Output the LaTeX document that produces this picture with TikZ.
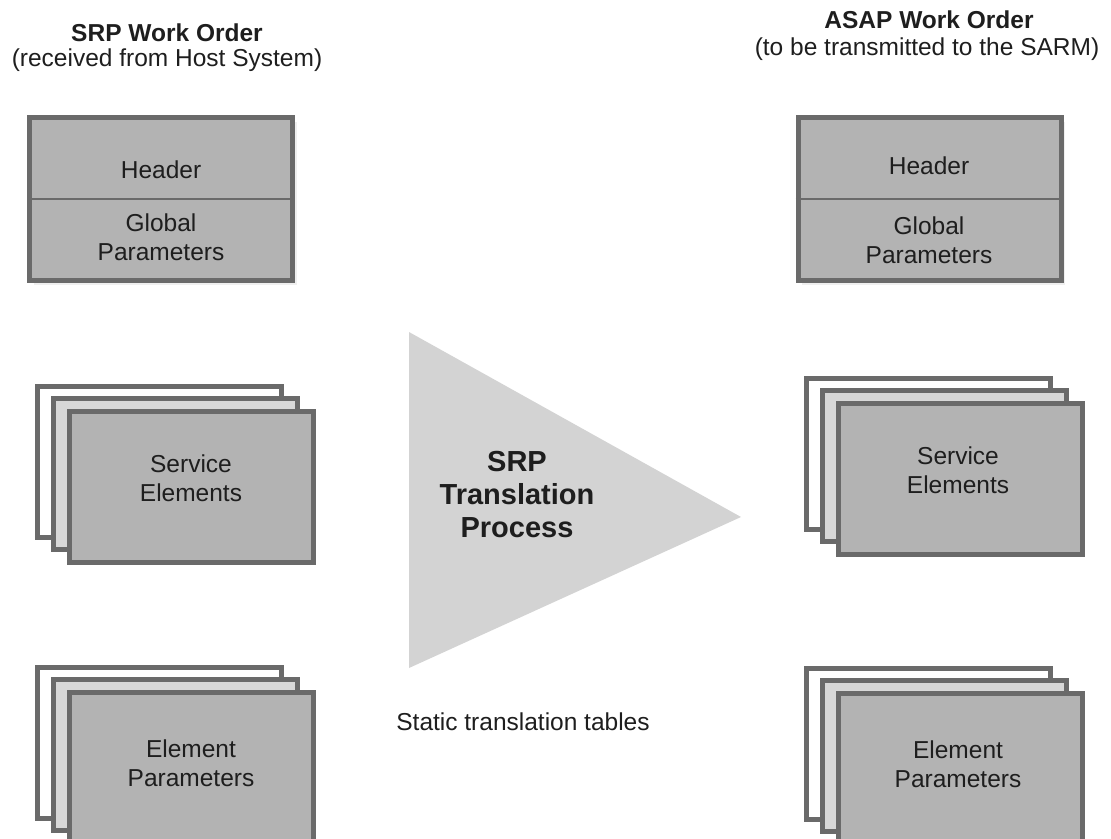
\documentclass[tikz,border=0pt]{standalone}
\usepackage{fontspec}
\setmainfont{Liberation Sans}
\usetikzlibrary{shadows}
\definecolor{boxgray}{HTML}{B3B3B3}
\definecolor{edgegray}{HTML}{6A6A6A}
\definecolor{trigray}{HTML}{D3D3D3}
\definecolor{midgray}{HTML}{D8D8D8}
\definecolor{ink}{HTML}{1E1E1E}
\tikzset{
  sheet/.style={draw=edgegray,line width=5pt,fill=boxgray,minimum width=244pt,minimum height=151pt,inner sep=0pt},
  midsheet/.style={sheet,fill=midgray},
  backsheet/.style={sheet,fill=white},
  topsheet/.style={sheet,minimum width=263pt,minimum height=163pt,
    drop shadow={shadow xshift=4pt,shadow yshift=-4pt,fill=black!12}},
  words/.style={text=ink,align=center,font=\fontsize{24.5}{28.5}\selectfont},
  boldwords/.style={words,font=\bfseries\fontsize{24.5}{28.5}\selectfont}
}
\begin{document}
\begin{tikzpicture}[x=1pt,y=-1pt]
\clip (0,0) rectangle (1111,838);
% titles
\node[boldwords] (srptitle) at (167,33) {SRP Work Order};
\node[words] (srpsub) at (167,60) {(received from Host System)};
\node[boldwords] (asaptitle) at (929,20) {ASAP Work Order};
\node[words] (asapsub) at (927,49) {(to be transmitted to the SARM)};
% header boxes
\node[topsheet] (srpbox) at (161,199) {};
\draw[edgegray,line width=2pt] (srpbox.west) -- (srpbox.east);
\node[words] (srphead) at (161,170) {Header};
\node[words] (srpglob) at (161,237) {Global\\Parameters};
\node[topsheet] (asapbox) at (929.5,199) {};
\draw[edgegray,line width=2pt] (asapbox.west) -- (asapbox.east);
\node[words] (asaphead) at (929,166) {Header};
\node[words] (asapglob) at (929,240) {Global\\Parameters};
% stacked sheets
\foreach \nm/\x/\y in {srpsvc/159/462,srpelem/159/742.5,asapsvc/928.5/453.5,asapelem/928.5/743.5}{
  \node[backsheet] (\nm back) at (\x,\y) {};
  \node[midsheet] (\nm mid) at (\x+16,\y+12) {};
  \node[sheet] (\nm front) at (\x+32,\y+25) {};
}
\node[words] (srpsvctext) at (191,478) {Service\\Elements};
\node[words] (srpelemtext) at (191,763) {Element\\Parameters};
\node[words] (asapsvctext) at (958,470) {Service\\Elements};
\node[words] (asapelemtext) at (958,764) {Element\\Parameters};
% translation process
\fill[trigray] (409,332) -- (409,668) -- (741,517) -- cycle;
\node[boldwords,font=\bfseries\fontsize{29}{33}\selectfont] (process) at (517,495) {SRP\\Translation\\Process};
\node[words] (tables) at (523,722) {Static translation tables};
\end{tikzpicture}
\end{document}
